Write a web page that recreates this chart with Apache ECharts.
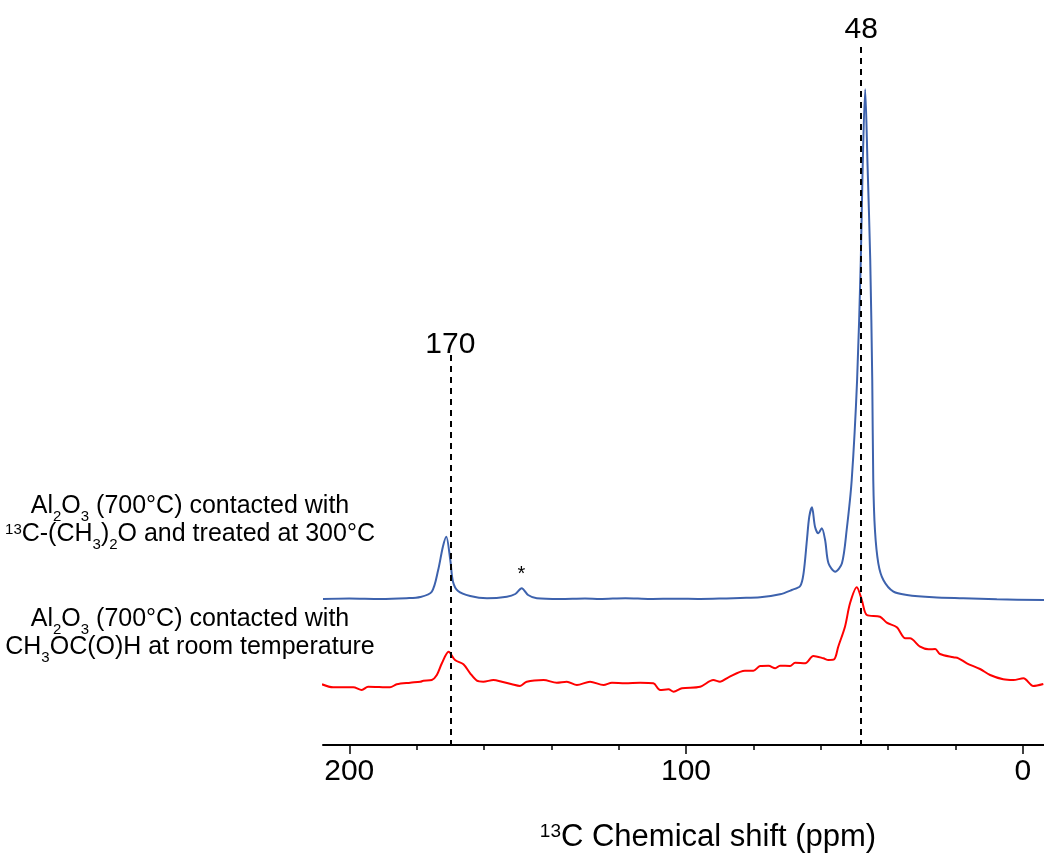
<!DOCTYPE html>
<html>
<head>
<meta charset="utf-8">
<script src="https://cdn.jsdelivr.net/npm/echarts@6/dist/echarts.min.js"></script>
<style>html,body{margin:0;padding:0;background:#fff}#c{width:1044px;height:861px}</style>
</head>
<body>
<div id="c"></div>
<script>
// ---- data (chemical shift in ppm, intensity in arbitrary units with stacking offset) ----
const blueShift = [207.8,200,190.8,183,178.9,175.5,173.6,172.2,171.2,170.0,169.2,167.7,164.1,159.1,153.2,150.7,148.8,146.9,144.3,137.4,130,125.5,118,110.6,103,95.8,88,83.9,78.0,72.1,68.6,66.1,65.1,64.1,63.4,62.6,61.7,60.7,59.7,58.7,57.7,55.7,53.7,52.3,50.8,49.2,48.1,47.6,46.8,46.1,45.3,44.7,44.4,43.9,42.9,41.4,38.4,34.4,26.6,17.7,7.7,-6.3];
const blueIntensity = [146,146.5,146,146.8,148,153.3,175,198.3,208.3,185,163.3,154,149,146.7,148.3,151,156.7,150,146.7,146,146.5,146,146.8,146,146.3,146,146.6,147,147.7,150.7,155,159,171.7,205,228.3,237.7,218.3,211.7,216.7,205,181.7,173.3,181.7,215,265,365,485,570,655.7,580,485,365,265,215,181.7,165,153.3,150,147.7,146.7,145.7,145];
const redShift = [208.1,204.8,198.8,196.3,194.4,187.9,185.9,181.9,178.9,178.0,175.5,174.0,172.5,170.5,168.6,166.1,164.1,162.1,160.2,157.2,154.7,151.7,149.3,147.3,142.3,138.4,135.4,132.4,128.5,124.5,122.0,118.1,113.6,109.7,107.7,105.2,103.7,101.2,95.8,91.9,89.9,87.4,82.5,80.0,78.0,75.5,73.5,72.1,69.1,67.6,64.6,62.2,59.2,57.7,56.0,54.8,52.8,51.3,49.3,47.8,46.3,42.4,40.4,37.4,34.9,33.5,30.5,28.0,26.0,24.6,20.6,19.1,16.6,12.7,9.7,5.8,2.8,-0.2,-3.1,-6.1];
const redIntensity = [60.7,57.7,57.7,55,58.3,57.7,60.7,62.3,63.3,64.3,65,70,81.7,93.3,85,80.7,71.7,64.3,63.3,65,63.3,60.7,59,63.3,65,62.3,63.3,60,63.3,60,62.3,61.7,62.3,61.7,55,55.7,53.3,56.7,58.3,65,63.3,67.7,74.3,74.3,79,79.3,76.7,79.3,79,82.3,81.7,89,86.7,85,85.7,98.3,118.3,141.7,157.7,145,130,128.3,122.3,117.7,106.7,106.7,98.3,95.7,96,91,87.7,86.7,81.7,76,70,65.7,65,66.7,59,61];
const majorTicks = [0, 100, 200];
const minorTicks = [20, 40, 60, 80, 120, 140, 160, 180];
const peakLines = [170, 48];
const peakLineTops = [390, 698];
const starShift = 148.9;
const starY = 174;
const sampleLabels = [
  '{n|Al}{sub|2}{n|O}{sub|3}{n| (700°C) contacted with}\n{sup|13}{n|C-(CH}{sub|3}{n|)}{sub|2}{n|O and treated at 300°C}',
  '{n|Al}{sub|2}{n|O}{sub|3}{n| (700°C) contacted with}\n{n|CH}{sub|3}{n|OC(O)H at room temperature}'
];
const axisTitle = '{sup|13}{n|C Chemical shift (ppm)}';

const pair = (xs, ys) => xs.map((x, i) => [x, ys[i]]);
const FONT = '"Liberation Sans", Arial, sans-serif';

const richLbl = {
  n:   {fontSize: 25, fontFamily: FONT, fill: '#000', lineHeight: 28},
  sub: {fontSize: 15, fontFamily: FONT, fill: '#000', lineHeight: 28, padding: [22, 0, 0, 0]},
  sup: {fontSize: 15, fontFamily: FONT, fill: '#000', lineHeight: 28, padding: [0, 0, 9, 0]}
};
const richTitle = {
  n:   {fontSize: 31, fontFamily: FONT, fill: '#000', lineHeight: 36},
  sup: {fontSize: 19, fontFamily: FONT, fill: '#000', lineHeight: 36, padding: [0, 0, 11, 0]}
};

const chart = echarts.init(document.getElementById('c'), null, {renderer: 'canvas'});
const xBase = {
  type: 'value', min: -6.3, max: 207.8, inverse: true, position: 'bottom',
  splitLine: {show: false}
};
chart.setOption({
  animation: false,
  backgroundColor: '#fff',
  grid: {left: 323, right: 0, top: 40, bottom: 116, containLabel: false},
  xAxis: [
    Object.assign({}, xBase, {
      axisLine: {show: true, lineStyle: {color: '#000', width: 2}},
      axisTick: {show: true, customValues: majorTicks, length: 9, lineStyle: {color: '#000', width: 1.5}},
      axisLabel: {show: true, customValues: majorTicks, margin: 12, fontSize: 30, fontFamily: FONT, color: '#000'}
    }),
    Object.assign({}, xBase, {
      axisLine: {show: false},
      axisTick: {show: true, customValues: minorTicks, length: 5, lineStyle: {color: '#000', width: 1.5}},
      axisLabel: {show: false}
    })
  ],
  yAxis: {type: 'value', min: 0, max: 705, show: false},
  graphic: [
    {type: 'text', x: 190, y: 492, style: {text: sampleLabels[0], rich: richLbl, align: 'center', verticalAlign: 'top', fill: '#000', font: '25px ' + FONT}},
    {type: 'text', x: 190, y: 605, style: {text: sampleLabels[1], rich: richLbl, align: 'center', verticalAlign: 'top', fill: '#000', font: '25px ' + FONT}},
    {type: 'text', x: 708, y: 819, style: {text: axisTitle, rich: richTitle, align: 'center', verticalAlign: 'top', fill: '#000', font: '31px ' + FONT}}
  ],
  series: [
    {
      type: 'line', name: 'DME 300C', data: pair(blueShift, blueIntensity),
      showSymbol: false, smooth: 0.3,
      lineStyle: {color: '#3d62ad', width: 2},
      markPoint: {
        symbol: 'circle', symbolSize: 0, silent: true,
        label: {show: true, position: 'inside', formatter: '*', fontSize: 20, fontFamily: FONT, color: '#000'},
        data: [{coord: [starShift, starY - 3]}]
      },
      markLine: {
        symbol: 'none', silent: true,
        lineStyle: {color: '#000', type: [6, 5], width: 2},
        label: {show: true, position: 'start', distance: 2, fontSize: 30, fontFamily: FONT, color: '#000', formatter: p => String(p.data.name)},
        data: peakLines.map((v, i) => [
          {coord: [v, peakLineTops[i]], name: String(v), label: {distance: i === 0 ? -5 : 2}},
          {coord: [v, 0]}
        ])
      },
      z: 3
    },
    {
      type: 'line', name: 'methyl formate RT', data: pair(redShift, redIntensity),
      showSymbol: false, smooth: 0.3,
      lineStyle: {color: '#ff0000', width: 2},
      z: 2
    }
  ]
});
</script>
</body>
</html>
